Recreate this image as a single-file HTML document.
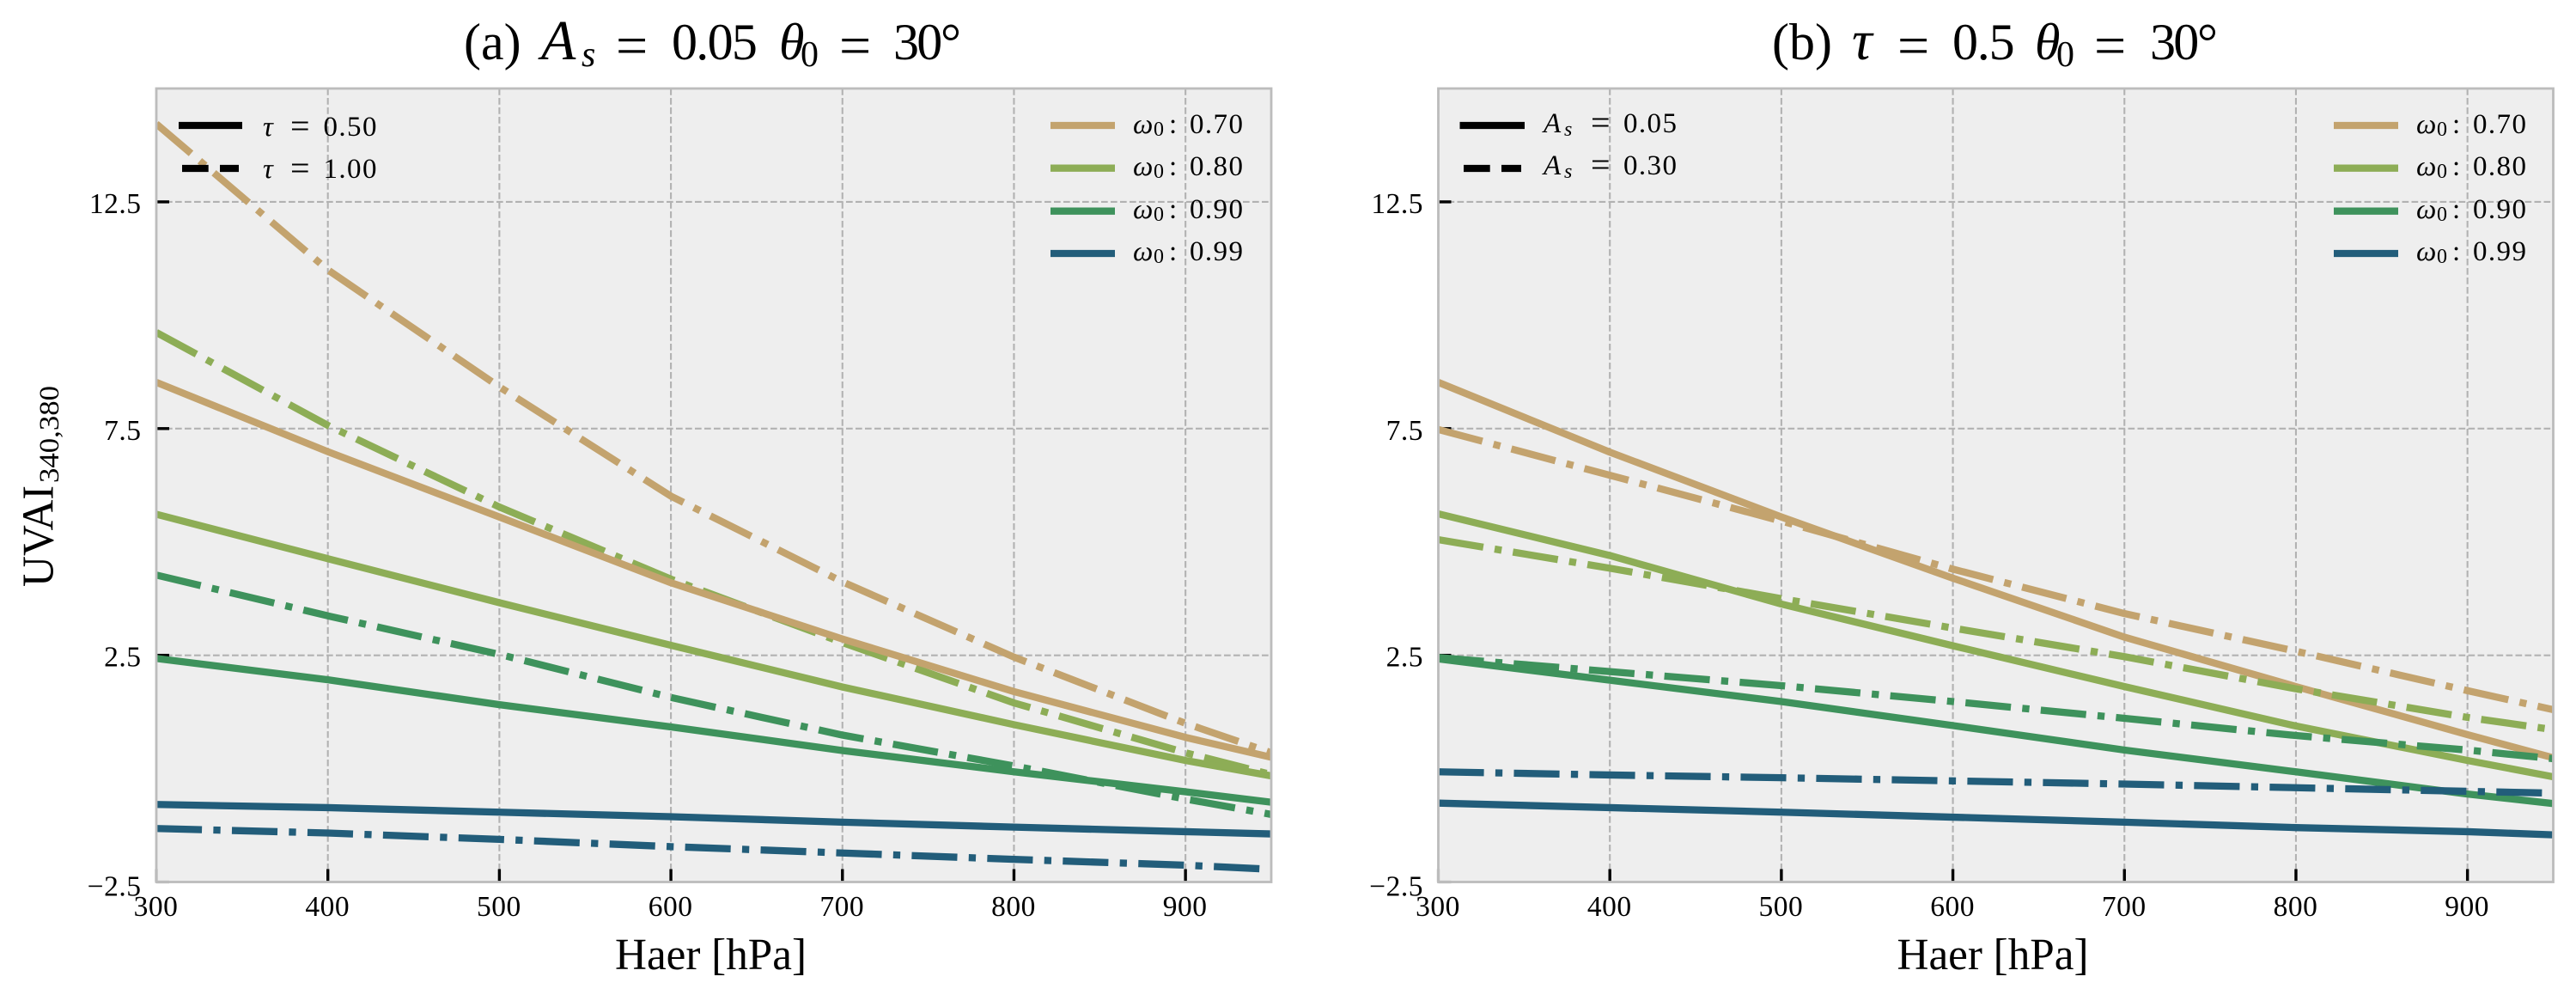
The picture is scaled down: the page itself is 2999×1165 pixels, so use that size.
<!DOCTYPE html>
<html lang="en">
<head>
<meta charset="utf-8">
<title>UVAI vs aerosol height</title>
<style>
  html, body { margin: 0; padding: 0; background: #ffffff; }
  svg { display: block; }
  text { font-family: "Liberation Serif", "DejaVu Serif", serif; fill: #000; }
  .tick-label { font-size: 33.5px; letter-spacing: 0.5px; }
  .it { font-style: italic; }
  .title { font-size: 60px; }
  .leg { font-size: 33px; }
  .leg .val { letter-spacing: 1.4px; }
  .leg .sub { font-size: 24px; }
  .leg .eq { font-size: 40px; }
</style>
</head>
<body>
<svg id="figure" xmlns="http://www.w3.org/2000/svg" width="2999" height="1165" viewBox="0 0 2999 1165">
  <rect x="0" y="0" width="2999" height="1165" fill="#ffffff"/>
  <defs>
    <clipPath id="clip-a"><rect x="182" y="103" width="1298" height="923.5"/></clipPath>
    <clipPath id="clip-b"><rect x="1674.5" y="103" width="1298" height="923.5"/></clipPath>
  </defs>

  <g id="panel-a"></g>
  <g id="panel-b"></g>

  <text class="title" y="69"><tspan x="540">(a)</tspan><tspan class="it" x="630" font-size="66">A</tspan><tspan class="it" x="677" y="77" font-size="42">s</tspan><tspan x="717" y="75" font-size="66">=</tspan><tspan x="782" y="69" letter-spacing="-1.7">0.05</tspan><tspan class="it" x="907">θ</tspan><tspan x="932" y="77" font-size="42">0</tspan><tspan x="977" y="75" font-size="66">=</tspan><tspan x="1040" y="69" letter-spacing="-2.7">30</tspan><tspan x="1095">°</tspan></text>

  <text class="title" y="69"><tspan x="2063">(b)</tspan><tspan class="it" x="2156" font-size="66">τ</tspan><tspan x="2209" y="75" font-size="66">=</tspan><tspan x="2273" y="69" letter-spacing="-1.2">0.5</tspan><tspan class="it" x="2369">θ</tspan><tspan x="2394" y="77" font-size="42">0</tspan><tspan x="2438" y="75" font-size="66">=</tspan><tspan x="2503" y="69" letter-spacing="-2.7">30</tspan><tspan x="2558">°</tspan></text>

  <text transform="translate(61.7,683) rotate(-90)"><tspan font-size="52" textLength="118" lengthAdjust="spacingAndGlyphs">UVAI</tspan></text>
  <text transform="translate(68,562) rotate(-90)" font-size="33" textLength="113" lengthAdjust="spacingAndGlyphs">340,380</text>

  <text x="716" y="1128" font-size="52" textLength="223" lengthAdjust="spacingAndGlyphs">Haer [hPa]</text>
  <text x="2208.5" y="1128" font-size="52" textLength="223" lengthAdjust="spacingAndGlyphs">Haer [hPa]</text>

  <!-- Panel a legends -->
  <g id="legend-a-style">
    <g>
      <line x1="208" x2="282" y1="146" y2="146" stroke="#000" stroke-width="8.3"/>
      <text class="leg" y="158"><tspan class="it" x="306">τ</tspan><tspan class="eq" x="338" y="160">=</tspan><tspan class="val" x="376.5" y="158">0.50</tspan></text>
    </g>
    <g>
      <line x1="212" x2="278" y1="196" y2="196" stroke="#000" stroke-width="8.3" stroke-dasharray="30.7 13.3"/>
      <text class="leg" y="207"><tspan class="it" x="306">τ</tspan><tspan class="eq" x="338" y="209">=</tspan><tspan class="val" x="376.5" y="207">1.00</tspan></text>
    </g>
  </g>
  <g>
    <g>
      <line x1="1223" x2="1298" y1="146" y2="146" stroke="#c3a36e" stroke-width="8.3"/>
      <text class="leg" y="155"><tspan class="it" x="1319">ω</tspan><tspan class="sub" x="1343" y="158">0</tspan><tspan x="1361" y="155">:</tspan><tspan class="val" x="1385">0.70</tspan></text>
    </g>
    <g>
      <line x1="1223" x2="1298" y1="195.7" y2="195.7" stroke="#8dad56" stroke-width="8.3"/>
      <text class="leg" y="204"><tspan class="it" x="1319">ω</tspan><tspan class="sub" x="1343" y="207">0</tspan><tspan x="1361" y="204">:</tspan><tspan class="val" x="1385">0.80</tspan></text>
    </g>
    <g>
      <line x1="1223" x2="1298" y1="245.7" y2="245.7" stroke="#3e925c" stroke-width="8.3"/>
      <text class="leg" y="254"><tspan class="it" x="1319">ω</tspan><tspan class="sub" x="1343" y="257">0</tspan><tspan x="1361" y="254">:</tspan><tspan class="val" x="1385">0.90</tspan></text>
    </g>
    <g>
      <line x1="1223" x2="1298" y1="295" y2="295" stroke="#225d7a" stroke-width="8.3"/>
      <text class="leg" y="303"><tspan class="it" x="1319">ω</tspan><tspan class="sub" x="1343" y="306">0</tspan><tspan x="1361" y="303">:</tspan><tspan class="val" x="1385">0.99</tspan></text>
    </g>
  </g>

  <!-- Panel b legends -->
  <g>
    <g>
      <line x1="1699.5" x2="1775" y1="146" y2="146" stroke="#000" stroke-width="8.3"/>
      <text class="leg" y="154"><tspan class="it" x="1797">A</tspan><tspan class="it sub" x="1821" y="158">s</tspan><tspan class="eq" x="1852" y="156">=</tspan><tspan class="val" x="1890" y="154">0.05</tspan></text>
    </g>
    <g>
      <line x1="1704" x2="1771" y1="196" y2="196" stroke="#000" stroke-width="8.3" stroke-dasharray="30.7 13.3"/>
      <text class="leg" y="203"><tspan class="it" x="1797">A</tspan><tspan class="it sub" x="1821" y="207">s</tspan><tspan class="eq" x="1852" y="205">=</tspan><tspan class="val" x="1890" y="203">0.30</tspan></text>
    </g>
  </g>
  <g>
    <g>
      <line x1="2717" x2="2792" y1="146" y2="146" stroke="#c3a36e" stroke-width="8.3"/>
      <text class="leg" y="155"><tspan class="it" x="2813">ω</tspan><tspan class="sub" x="2837" y="158">0</tspan><tspan x="2855" y="155">:</tspan><tspan class="val" x="2879">0.70</tspan></text>
    </g>
    <g>
      <line x1="2717" x2="2792" y1="195.7" y2="195.7" stroke="#8dad56" stroke-width="8.3"/>
      <text class="leg" y="204"><tspan class="it" x="2813">ω</tspan><tspan class="sub" x="2837" y="207">0</tspan><tspan x="2855" y="204">:</tspan><tspan class="val" x="2879">0.80</tspan></text>
    </g>
    <g>
      <line x1="2717" x2="2792" y1="245.7" y2="245.7" stroke="#3e925c" stroke-width="8.3"/>
      <text class="leg" y="254"><tspan class="it" x="2813">ω</tspan><tspan class="sub" x="2837" y="257">0</tspan><tspan x="2855" y="254">:</tspan><tspan class="val" x="2879">0.90</tspan></text>
    </g>
    <g>
      <line x1="2717" x2="2792" y1="295" y2="295" stroke="#225d7a" stroke-width="8.3"/>
      <text class="leg" y="303"><tspan class="it" x="2813">ω</tspan><tspan class="sub" x="2837" y="306">0</tspan><tspan x="2855" y="303">:</tspan><tspan class="val" x="2879">0.99</tspan></text>
    </g>
  </g>
</svg>

<script>
// Shared axes data
const pressureLevels = [300, 400, 500, 600, 700, 800, 900, 950];
const xTickValues = [300, 400, 500, 600, 700, 800, 900];
const xTickLabels = ["300", "400", "500", "600", "700", "800", "900"];
const yTickValues = [-2.5, 2.5, 7.5, 12.5];
const yTickLabels = ["\u22122.5", "2.5", "7.5", "12.5"];
const xDomain = [300, 950];
const yDomain = [-2.5, 15];

// Panel a: tau = 0.50 (solid)
const aSolidW70 = [8.52, 6.99, 5.55, 4.10, 2.86, 1.70, 0.69, 0.25];
const aSolidW80 = [5.61, 4.63, 3.66, 2.72, 1.80, 0.97, 0.18, -0.16];
const aSolidW90 = [2.43, 1.96, 1.41, 0.92, 0.40, -0.07, -0.51, -0.74];
const aSolidW99 = [-0.79, -0.86, -0.96, -1.06, -1.18, -1.29, -1.39, -1.44];
// Panel a: tau = 1.00 (dash-dot)
const aDashW70 = [14.22, 11.00, 8.42, 6.01, 4.12, 2.46, 1.00, 0.35];
const aDashW80 = [9.62, 7.57, 5.77, 4.18, 2.78, 1.45, 0.35, -0.13];
const aDashW90 = [4.27, 3.37, 2.52, 1.57, 0.74, 0.06, -0.67, -1.01];
const aDashW99 = [-1.32, -1.42, -1.56, -1.72, -1.86, -2.00, -2.13, -2.22];

// Panel b: As = 0.05 (solid)
const bSolidW70 = [8.52, 6.98, 5.55, 4.20, 2.90, 1.81, 0.75, 0.24];
const bSolidW80 = [5.62, 4.70, 3.63, 2.71, 1.81, 0.94, 0.18, -0.18];
const bSolidW90 = [2.42, 1.95, 1.48, 0.95, 0.41, -0.07, -0.56, -0.77];
const bSolidW99 = [-0.76, -0.86, -0.96, -1.07, -1.18, -1.30, -1.39, -1.46];
// Panel b: As = 0.30 (dash-dot)
const bDashW70 = [7.48, 6.47, 5.46, 4.40, 3.42, 2.59, 1.72, 1.30];
const bDashW80 = [5.05, 4.42, 3.75, 3.10, 2.47, 1.76, 1.13, 0.86];
const bDashW90 = [2.45, 2.14, 1.83, 1.48, 1.11, 0.73, 0.41, 0.22];
const bDashW99 = [-0.07, -0.14, -0.20, -0.27, -0.34, -0.42, -0.50, -0.54];

const omegaNames = ["070", "080", "090", "099"];
const omegaColors = ["#c3a36e", "#8dad56", "#3e925c", "#225d7a"];

const SVG_NS = "http://www.w3.org/2000/svg";
const PLOT_TOP = 103;
const PLOT_BOTTOM = 1026.5;

function makeEl(parent, tag, attrs) {
  const el = document.createElementNS(SVG_NS, tag);
  for (const k in attrs) el.setAttribute(k, attrs[k]);
  parent.appendChild(el);
  return el;
}

function drawPanel(groupId, clipId, left, right, layers) {
  const root = document.getElementById(groupId);
  const xScale = function (v) {
    return left + (v - xDomain[0]) / (xDomain[1] - xDomain[0]) * (right - left);
  };
  const yScale = function (v) {
    return PLOT_BOTTOM - (v - yDomain[0]) / (yDomain[1] - yDomain[0]) * (PLOT_BOTTOM - PLOT_TOP);
  };

  const bg = makeEl(root, "rect", { x: left, y: PLOT_TOP, width: right - left, height: PLOT_BOTTOM - PLOT_TOP, fill: "#eeeeee" });
  
  

  xTickValues.forEach(function (v) {
    const g = makeEl(root, "line", { x1: xScale(v), x2: xScale(v), y1: PLOT_TOP, y2: PLOT_BOTTOM, stroke: "#b2b2b2", "stroke-width": 2.1, "stroke-dasharray": "7.7 3.3" });
    
    
  });
  yTickValues.forEach(function (v) {
    const g = makeEl(root, "line", { x1: left, x2: right, y1: yScale(v), y2: yScale(v), stroke: "#b2b2b2", "stroke-width": 2.1, "stroke-dasharray": "7.7 3.3" });
    
    
  });

  xTickValues.forEach(function (v, i) {
    const onEdge = v === xDomain[0];
    const t = makeEl(root, "line", { x1: xScale(v), x2: xScale(v), y1: PLOT_BOTTOM, y2: PLOT_BOTTOM - 15, stroke: onEdge ? "#bcbcbc" : "#000", "stroke-width": 3.4 });
    
    
    const lab = makeEl(root, "text", { x: xScale(v) - 0.5, y: 1066, "text-anchor": "middle", "class": "tick-label" });
    lab.textContent = xTickLabels[i];
    
    
  });
  yTickValues.forEach(function (v, i) {
    const onEdge = v === yDomain[0];
    const t = makeEl(root, "line", { x1: left, x2: left + 15, y1: yScale(v), y2: yScale(v), stroke: onEdge ? "#bcbcbc" : "#000", "stroke-width": 3.4 });
    
    
    const lab = makeEl(root, "text", { x: left - 17.5, y: yScale(v) + (i === 0 ? 16 : 13), "text-anchor": "end", "class": "tick-label" });
    lab.textContent = yTickLabels[i];
    
    
  });

  const lines = makeEl(root, "g", { "clip-path": "url(#" + clipId + ")" });
  
  
  layers.forEach(function (layer) {
    layer.series.forEach(function (values, i) {
      const d = values.map(function (v, k) {
        return (k === 0 ? "M" : "L") + xScale(pressureLevels[k]).toFixed(2) + " " + yScale(v).toFixed(2);
      }).join(" ");
      const p = makeEl(lines, "path", { d: d, fill: "none", stroke: omegaColors[i], "stroke-width": 8.3, "stroke-linejoin": "round" });
      if (layer.dashed) p.setAttribute("stroke-dasharray", "53.1 13.3 8.3 13.3");
      
      
    });
  });

  const spine = makeEl(root, "rect", { x: left, y: PLOT_TOP, width: right - left, height: PLOT_BOTTOM - PLOT_TOP, fill: "none", stroke: "#bcbcbc", "stroke-width": 2.8 });
  
  
}

drawPanel("panel-a", "clip-a", 182, 1480, [
  { dashed: true, series: [aDashW70, aDashW80, aDashW90, aDashW99] },
  { dashed: false, series: [aSolidW70, aSolidW80, aSolidW90, aSolidW99] }
]);
drawPanel("panel-b", "clip-b", 1674.5, 2972.5, [
  { dashed: false, series: [bSolidW70, bSolidW80, bSolidW90, bSolidW99] },
  { dashed: true, series: [bDashW70, bDashW80, bDashW90, bDashW99] }
]);
</script>
</body>
</html>
